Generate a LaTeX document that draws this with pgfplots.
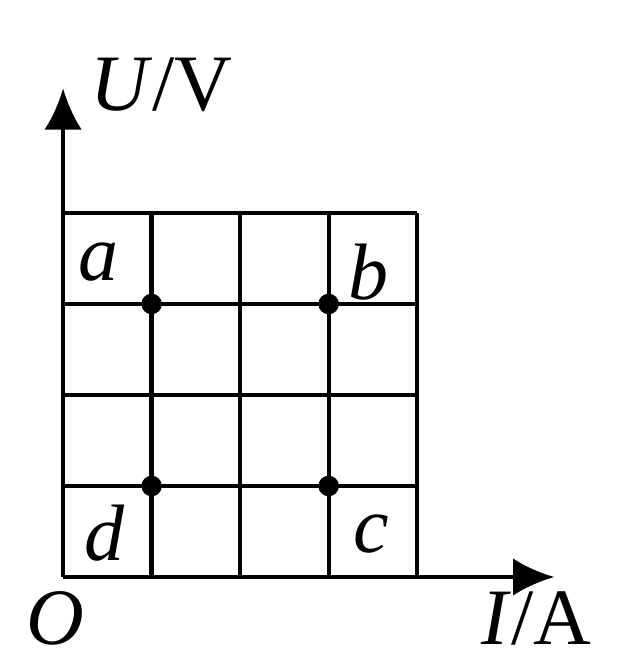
\documentclass[border=0pt]{standalone}
\usepackage{pgfplots}
\pgfplotsset{compat=1.18}
\usepackage{fontspec}
\setmainfont{Liberation Serif}
\usetikzlibrary{arrows.meta}

\tikzset{lbl/.style={font=\fontsize{32}{32}\selectfont, inner sep=0pt, anchor=base west}}

\begin{document}
\begin{tikzpicture}
\begin{axis}[
    x=35.4pt, y=36.4pt,
    xmin=0, xmax=5.55,
    ymin=0, ymax=5.37,
    axis lines=left,
    axis line style={line width=1.8pt, -{Latex[length=16.5pt,width=15pt]}},
    xtick=\empty, ytick=\empty,
    clip=false,
]
% grid lines of the 4x4 square
\addplot[black, line width=1.7pt] coordinates {(1,0) (1,4)};
\addplot[black, line width=1.7pt] coordinates {(2,0) (2,4)};
\addplot[black, line width=1.7pt] coordinates {(3,0) (3,4)};
\addplot[black, line width=1.7pt] coordinates {(4,0) (4,4)};
\addplot[black, line width=1.7pt] coordinates {(0,1) (4,1)};
\addplot[black, line width=1.7pt] coordinates {(0,2) (4,2)};
\addplot[black, line width=1.7pt] coordinates {(0,3) (4,3)};
\addplot[black, line width=1.7pt] coordinates {(0,4) (4,4)};
% the four states a, b, c, d
\addplot[only marks, mark=*, mark size=3.9pt, black] coordinates {
    (1,3) (3,3) (3,1) (1,1)
};
\node[lbl] at (axis cs:0.17,3.26) {\textit{a}};
\node[lbl] at (axis cs:3.22,3.05) {\textit{b}};
\node[lbl] at (axis cs:3.28,0.27) {\textit{c}};
\node[lbl] at (axis cs:0.24,0.18) {\textit{d}};
\node[lbl] at (axis cs:0.30,5.13) {\textit{U}/V};
\node[lbl, text depth=0pt] at (axis cs:-0.42,-0.74) {\textit{O}};
\node[lbl, text depth=0pt] at (axis cs:4.72,-0.74) {\textit{I}/A};
\path (axis cs:-0.713,-0.868) rectangle (axis cs:6.25,6.34);
\end{axis}
\end{tikzpicture}
\end{document}
